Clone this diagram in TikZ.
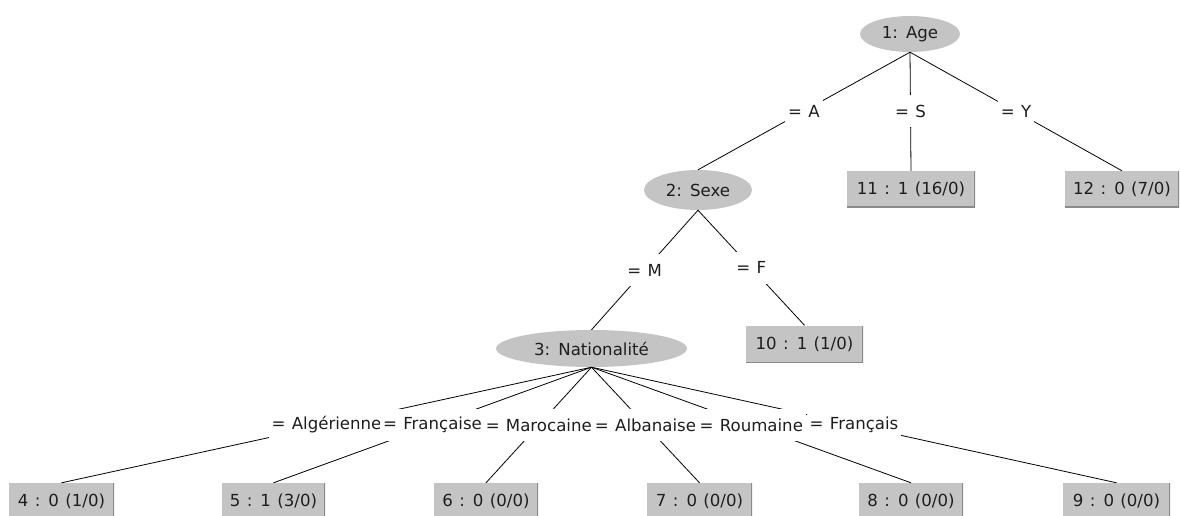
\documentclass[tikz,border=0pt]{standalone}
\usepackage{fontspec}
\setmainfont{DejaVu Sans}[WordSpace=1.2]
\usetikzlibrary{shapes.geometric}
\definecolor{nodegray}{HTML}{C4C4C4}
\definecolor{shadegray}{HTML}{8A8A8A}
\definecolor{ink}{HTML}{1E1E1E}
\begin{document}
\begin{tikzpicture}[x=1pt,y=-1pt,
  every node/.style={font=\fontsize{16.6}{19}\selectfont, text=ink},
  split/.style={ellipse, fill=nodegray, inner sep=0pt},
  leaf/.style={rectangle, fill=nodegray, inner sep=0pt, minimum height=36pt,
    path picture={\draw[shadegray,line width=2pt]
      (path picture bounding box.north east) -- (path picture bounding box.south east)
      -- (path picture bounding box.south west);}},
  edge/.style={draw=black, line width=0.8pt},
  lab/.style={fill=white, inner xsep=3pt, inner ysep=0pt, minimum height=32pt}]
\useasboundingbox (0,0) rectangle (1180,516);
\clip (0,0) rectangle (1180,516);
% split nodes
\node[split, minimum width=100pt, minimum height=36pt] (root) at (910,34) {1: Age};
\node[split, minimum width=108pt, minimum height=40pt] (sexe) at (698,190) {2: Sexe};
\node[split, minimum width=191pt, minimum height=37pt] (nat) at (591.5,348.5) {3: Nationalité};
% leaves
\node[leaf, minimum width=128pt] (l11) at (911,189) {11 : 1 (16/0)};
\node[leaf, minimum width=114pt] (l12) at (1122,189) {12 : 0 (7/0)};
\node[leaf, minimum width=117pt, minimum height=37pt] (l10) at (804.5,344) {10 : 1 (1/0)};
\node[leaf, minimum width=105pt] (l4) at (61.5,501) {4 : 0 (1/0)};
\node[leaf, minimum width=103pt] (l5) at (273.5,501) {5 : 1 (3/0)};
\node[leaf, minimum width=104pt] (l6) at (486,501) {6 : 0 (0/0)};
\node[leaf, minimum width=105pt] (l7) at (699.5,501) {7 : 0 (0/0)};
\node[leaf, minimum width=104pt] (l8) at (911,501) {8 : 0 (0/0)};
\node[leaf, minimum width=107pt] (l9) at (1116.5,501) {9 : 0 (0/0)};
% edges
\draw[edge] (root.south) -- coordinate[pos=0.5] (mA) (sexe.north);
\draw[edge] (root.south) -- coordinate[pos=0.5] (mS) (l11.north);
\draw[edge] (root.south) -- coordinate[pos=0.5] (mY) (l12.north);
\draw[edge] (sexe.south) -- coordinate[pos=0.5] (mM) (nat.north);
\draw[edge] (sexe.south) -- coordinate[pos=0.5] (mF) (l10.north);
\draw[edge] (nat.south) -- coordinate[pos=0.5] (m4) (l4.north);
\draw[edge] (nat.south) -- coordinate[pos=0.5] (m5) (l5.north);
\draw[edge] (nat.south) -- coordinate[pos=0.5] (m6) (l6.north);
\draw[edge] (nat.south) -- coordinate[pos=0.5] (m7) (l7.north);
\draw[edge] (nat.south) -- coordinate[pos=0.5] (m8) (l8.north);
\draw[edge] (nat.south) -- coordinate[pos=0.5] (m9) (l9.north);
% labels
\node[lab] (tA) at (mA) {= A};
\node[lab] (tS) at (mS) {= S};
\node[lab] (tY) at (mY) {= Y};
\node[lab] (tM) at (mM) {= M};
\node[lab] (tF) at (mF) {= F};
\node[lab] (t4) at (m4) {= Algérienne};
\node[lab] (t5) at (m5) {= Française};
\node[lab] (t6) at (m6) {= Marocaine};
\node[lab] (t7) at (m7) {= Albanaise};
\node[lab] (t8) at (m8) {= Roumaine};
\node[lab] (t9) at (m9) {= Français};
\end{tikzpicture}
\end{document}
